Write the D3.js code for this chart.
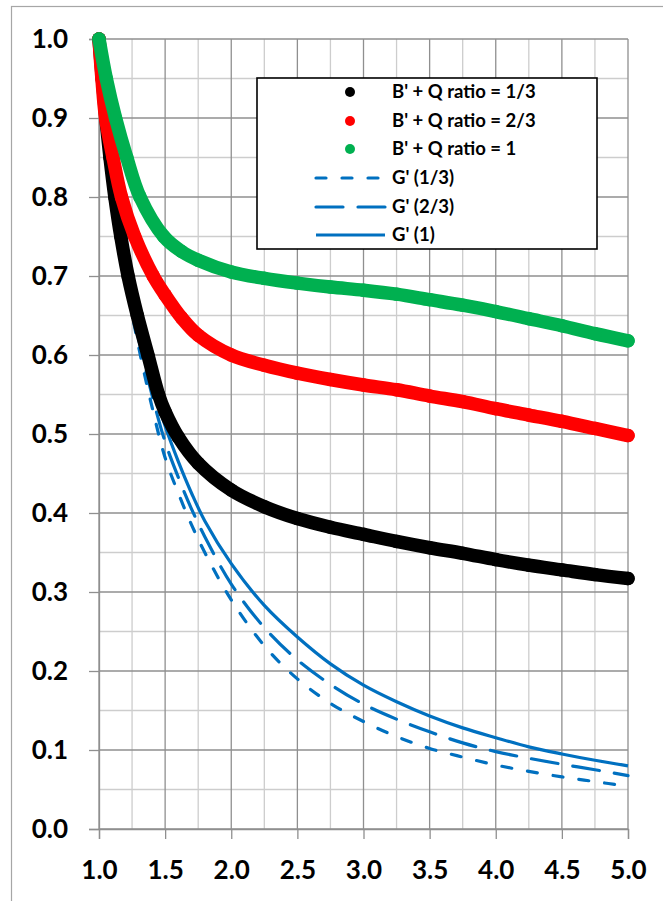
<!DOCTYPE html>
<html>
<head>
<meta charset="utf-8">
<script src="https://cdn.jsdelivr.net/npm/d3@7"></script>
<style>
  html, body { margin: 0; padding: 0; background: #fff; }
  svg { display: block; }
  text { font-family: Lato, "Liberation Sans", Arial, sans-serif; font-weight: 700; fill: #000; }
</style>
</head>
<body>
<script>
// ---------------- data ----------------
const xTicks = [1.0, 1.5, 2.0, 2.5, 3.0, 3.5, 4.0, 4.5, 5.0];
const yTicks = [0.0, 0.1, 0.2, 0.3, 0.4, 0.5, 0.6, 0.7, 0.8, 0.9, 1.0];

// B' + Q ratio = 1/3 (black)
const bq13X = [1.0, 1.025, 1.052, 1.083, 1.12, 1.165, 1.22, 1.29, 1.37, 1.45, 1.5, 1.6, 1.75, 2.0, 2.25, 2.5, 2.75, 3.0, 3.25, 3.5, 3.75, 4.0, 4.25, 4.5, 4.75, 5.0];
const bq13Y = [1.0, 0.95, 0.9, 0.85, 0.8, 0.75, 0.7, 0.65, 0.6, 0.55, 0.528, 0.496, 0.463, 0.429, 0.408, 0.393, 0.382, 0.373, 0.364, 0.356, 0.349, 0.341, 0.334, 0.328, 0.322, 0.317];

// B' + Q ratio = 2/3 (red)
const bq23X = [1.0, 1.022, 1.05, 1.106, 1.17, 1.27, 1.41, 1.5, 1.625, 1.75, 2.0, 2.25, 2.5, 2.75, 3.0, 3.25, 3.5, 3.75, 4.0, 4.25, 4.5, 4.75, 5.0];
const bq23Y = [1.0, 0.95, 0.9, 0.85, 0.8, 0.75, 0.7, 0.676, 0.647, 0.625, 0.600, 0.587, 0.577, 0.569, 0.562, 0.556, 0.548, 0.541, 0.532, 0.524, 0.516, 0.507, 0.498];

// B' + Q ratio = 1 (green)
const bq1X = [1.0, 1.055, 1.125, 1.21, 1.31, 1.49, 1.625, 1.75, 2.0, 2.25, 2.5, 2.75, 3.0, 3.25, 3.5, 3.75, 4.0, 4.25, 4.5, 4.75, 5.0];
const bq1Y = [1.0, 0.95, 0.9, 0.85, 0.8, 0.75, 0.731, 0.72, 0.705, 0.697, 0.691, 0.686, 0.682, 0.677, 0.670, 0.663, 0.655, 0.646, 0.637, 0.627, 0.618];

// G' curves (blue)
const gX   = [1.0, 1.1, 1.2, 1.3, 1.4, 1.5, 1.6, 1.7, 1.8, 2.0, 2.25, 2.5, 2.75, 3.0, 3.25, 3.5, 3.75, 4.0, 4.25, 4.5, 4.75, 5.0];
const g13Y = [1.0, 0.82, 0.70, 0.61, 0.535, 0.47, 0.425, 0.385, 0.35, 0.29, 0.232, 0.190, 0.159, 0.136, 0.117, 0.102, 0.091, 0.081, 0.073, 0.066, 0.060, 0.054];
const g23Y = [1.0, 0.83, 0.71, 0.62, 0.55, 0.49, 0.445, 0.405, 0.37, 0.31, 0.255, 0.214, 0.183, 0.158, 0.139, 0.123, 0.109, 0.098, 0.0895, 0.082, 0.075, 0.0675];
const g1Y  = [1.0, 0.84, 0.72, 0.635, 0.565, 0.51, 0.465, 0.425, 0.39, 0.336, 0.283, 0.243, 0.209, 0.182, 0.161, 0.143, 0.128, 0.1156, 0.104, 0.095, 0.087, 0.080];

const legendLabels = ["B' + Q ratio = 1/3", "B' + Q ratio = 2/3", "B' + Q ratio = 1", "G' (1/3)", "G' (2/3)", "G' (1)"];

// ---------------- chart ----------------
const W = 663, H = 901;
const svg = d3.select("body").append("svg").attr("width", W).attr("height", H);

svg.append("rect").attr("x", 0).attr("y", 0).attr("width", W).attr("height", H).attr("fill", "#fff");
// outer chart border
svg.append("rect").attr("x", 11.5).attr("y", 6.5).attr("width", 700).attr("height", 1000)
  .attr("fill", "none").attr("stroke", "#a6a6a6").attr("stroke-width", 1.2);

const x = d3.scaleLinear().domain([1, 5]).range([99, 628]);
const y = d3.scaleLinear().domain([0, 1]).range([829, 39]);

const majorC = "#8f8f8f", minorC = "#cdcdcd";
const grid = svg.append("g");
// minor grid
d3.range(1.25, 5.0, 0.5).forEach(v => {
  grid.append("line").attr("x1", x(v)).attr("x2", x(v)).attr("y1", y(0)).attr("y2", y(1))
    .attr("stroke", minorC).attr("stroke-width", 1.3);
});
d3.range(0.05, 1.0, 0.1).forEach(v => {
  grid.append("line").attr("x1", x(1)).attr("x2", x(5)).attr("y1", y(v)).attr("y2", y(v))
    .attr("stroke", minorC).attr("stroke-width", 1.3);
});
// major grid
xTicks.forEach(v => {
  grid.append("line").attr("x1", x(v)).attr("x2", x(v)).attr("y1", y(0)).attr("y2", y(1))
    .attr("stroke", majorC).attr("stroke-width", 1.3);
});
yTicks.forEach(v => {
  grid.append("line").attr("x1", x(1)).attr("x2", x(5)).attr("y1", y(v)).attr("y2", y(v))
    .attr("stroke", majorC).attr("stroke-width", 1.3);
});

// axes
const fmt = d3.format(".1f");
const yAxis = svg.append("g").attr("transform", `translate(${x(1)},0)`)
  .call(d3.axisLeft(y).tickValues(yTicks).tickFormat(fmt).tickSize(10).tickPadding(21));
const xAxis = svg.append("g").attr("transform", `translate(0,${y(0)})`)
  .call(d3.axisBottom(x).tickValues(xTicks).tickFormat(fmt).tickSize(10).tickPadding(22));
[yAxis, xAxis].forEach(a => {
  a.select(".domain").attr("stroke", majorC).attr("stroke-width", 1.3);
  a.selectAll(".tick line").attr("stroke", majorC).attr("stroke-width", 1.3);
  a.selectAll(".tick text").attr("font-size", 26).attr("font-family", "Lato, 'Liberation Sans', Arial, sans-serif")
    .attr("font-weight", 900).attr("fill", "#000");
});

// curves
const line = d3.line().x(d => x(d[0])).y(d => y(d[1])).curve(d3.curveCatmullRom.alpha(0.5));
const blue = "#0070C0";
const gSeries = [
  { ys: g13Y, dash: "10,16" },
  { ys: g23Y, dash: "27,15" },
  { ys: g1Y,  dash: null }
];
gSeries.forEach(s => {
  const pts = gX.map((v, i) => [v, s.ys[i]]);
  svg.append("path").attr("d", line(pts)).attr("fill", "none").attr("stroke", blue)
    .attr("stroke-width", 3.2).attr("stroke-linecap", s.dash ? "round" : "butt")
    .attr("stroke-dasharray", s.dash);
});

const bSeries = [
  { xs: bq13X, ys: bq13Y, color: "#000000" },
  { xs: bq23X, ys: bq23Y, color: "#ff0000" },
  { xs: bq1X,  ys: bq1Y,  color: "#00b050" }
];
bSeries.forEach(s => {
  const pts = s.xs.map((v, i) => [v, s.ys[i]]);
  svg.append("path").attr("d", line(pts)).attr("fill", "none").attr("stroke", s.color)
    .attr("stroke-width", 13.5).attr("stroke-linecap", "round").attr("stroke-linejoin", "round");
  svg.append("g").selectAll("circle").data(pts).join("circle")
    .attr("cx", d => x(d[0])).attr("cy", d => y(d[1])).attr("r", 6.75).attr("fill", s.color);
});

// legend
const lg = svg.append("g");
lg.append("rect").attr("x", 257).attr("y", 78).attr("width", 340).attr("height", 171)
  .attr("fill", "#fff").attr("stroke", "#000").attr("stroke-width", 1.6);
const rowY = [92, 121, 149, 178, 207, 235];
const legColors = ["#000000", "#ff0000", "#00b050"];
legendLabels.forEach((lab, i) => {
  const yy = rowY[i];
  if (i < 3) {
    lg.append("circle").attr("cx", 350).attr("cy", yy).attr("r", 5).attr("fill", legColors[i]);
  } else {
    const s = gSeries[i - 3];
    lg.append("line").attr("x1", 316).attr("x2", 385).attr("y1", yy).attr("y2", yy)
      .attr("stroke", blue).attr("stroke-width", 3.2)
      .attr("stroke-linecap", s.dash ? "round" : "butt").attr("stroke-dasharray", s.dash);
  }
  lg.append("text").attr("x", 392).attr("y", yy).attr("dy", "0.35em")
    .attr("font-size", 18.5).attr("font-weight", 900).text(lab);
});
</script>
</body>
</html>
